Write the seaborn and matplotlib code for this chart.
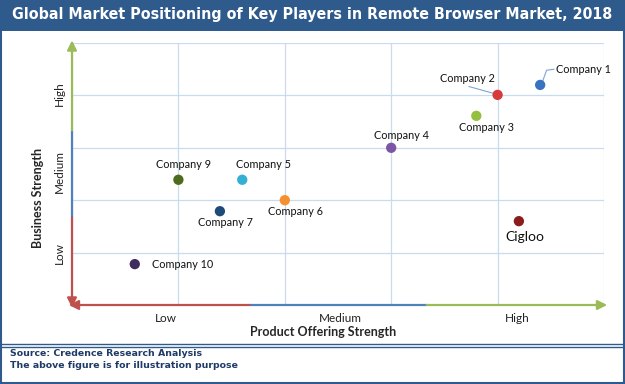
import numpy as np
import pandas as pd
import seaborn as sns
import matplotlib.pyplot as plt
from matplotlib.patches import Rectangle

# data (grid units 0-5 on both axes)
companies = ['Company 1', 'Company 2', 'Company 3', 'Company 4', 'Company 5',
             'Company 6', 'Company 7', 'Company 9', 'Company 10', 'Cigloo']
product_strength = [4.40, 4.00, 3.80, 3.00, 1.60, 2.00, 1.39, 1.00, 0.59, 4.20]
business_strength = [4.20, 4.01, 3.61, 3.00, 2.39, 2.00, 1.79, 2.39, 0.78, 1.60]
colors = ['#3a72c0', '#d63a3a', '#95bf3f', '#7c55a6', '#35b0d2',
          '#f5902f', '#1f4a78', '#4d6b1e', '#3e2c5c', '#8a1c1c']
level_labels = ['Low', 'Medium', 'High']

df = pd.DataFrame({'company': companies, 'x': product_strength, 'y': business_strength})

sns.set_style('white')
plt.rcParams['font.family'] = ['Lato', 'DejaVu Sans']

fig = plt.figure(figsize=(6.25, 3.84), dpi=100)
navy = '#2f5a8c'

# frame, title bar, footer
fig.patches.append(Rectangle((0.0015, 0.002), 0.997, 0.996, transform=fig.transFigure,
                             fill=False, edgecolor=navy, lw=1.5))
fig.patches.append(Rectangle((0, 1 - 31 / 384), 1, 31 / 384, transform=fig.transFigure,
                             facecolor=navy, edgecolor='none'))
fig.text(0.5, 1 - 15 / 384, 'Global Market Positioning of Key Players in Remote Browser Market, 2018',
         ha='center', va='center', color='white', fontsize=11.4, fontweight='bold',
         family='DejaVu Sans', stretch='condensed')
fig.add_artist(plt.Line2D([0, 1], [1 - 344 / 384] * 2, color=navy, lw=1))
fig.add_artist(plt.Line2D([0, 1], [1 - 347 / 384] * 2, color=navy, lw=1))
fig.text(10 / 625, 1 - 354 / 384, 'Source: Credence Research Analysis', ha='left', va='center',
         color='#1f3a68', fontsize=6.75, fontweight='bold', family='DejaVu Sans')
fig.text(10 / 625, 1 - 365 / 384, 'The above figure is for illustration purpose', ha='left', va='center',
         color='#1f3a68', fontsize=6.75, fontweight='bold', family='DejaVu Sans')

ax = fig.add_axes([72 / 625, 1 - 305 / 384, 532 / 625, 262 / 384])
sns.scatterplot(data=df, x='x', y='y', hue='company', palette=dict(zip(companies, colors)),
                s=55, edgecolor='none', legend=False, ax=ax, zorder=5)

ax.set_xlim(0, 5)
ax.set_ylim(0, 5)
ax.set_xticks(np.arange(0, 6))
ax.set_yticks(np.arange(0, 6))
ax.grid(True, color='#c9dbef', lw=0.9)
ax.tick_params(length=0, labelbottom=False, labelleft=False)
for s in ax.spines.values():
    s.set_visible(False)
ax.set_xlabel('')
ax.set_ylabel('')

# coloured axis arrows
seg_cols = ['#c0504d', '#4f81bd', '#9bbb59']
third = 5 / 3
arrow_kw = dict(arrowstyle='-|>', mutation_scale=14, lw=1.6, shrinkA=0, shrinkB=0)
ax.annotate('', xy=(-0.03, 0), xytext=(third, 0),
            arrowprops=dict(color=seg_cols[0], **arrow_kw), annotation_clip=False)
ax.plot([third, 2 * third], [0, 0], color=seg_cols[1], lw=1.6, clip_on=False)
ax.annotate('', xy=(5.03, 0), xytext=(2 * third, 0),
            arrowprops=dict(color=seg_cols[2], **arrow_kw), annotation_clip=False)
ax.annotate('', xy=(0, -0.05), xytext=(0, third),
            arrowprops=dict(color=seg_cols[0], **arrow_kw), annotation_clip=False)
ax.plot([0, 0], [third, 2 * third], color=seg_cols[1], lw=1.6, clip_on=False)
ax.annotate('', xy=(0, 5.05), xytext=(0, 2 * third),
            arrowprops=dict(color=seg_cols[2], **arrow_kw), annotation_clip=False)

# level labels
for lbl, xv in zip(level_labels, [0.88, 2.52, 4.18]):
    ax.text(xv, -0.25, lbl, ha='center', va='center', fontsize=8.5, color='#222222')
for lbl, yv in zip(level_labels, [1.0, 2.55, 4.03]):
    ax.text(-0.12, yv, lbl, ha='center', va='center', fontsize=8.5, rotation=90, color='#222222')
ax.text(2.36, -0.52, 'Product Offering Strength', ha='center', va='center',
        fontsize=9, fontweight='bold')
ax.text(-0.32, 2.05, 'Business Strength', ha='center', va='center',
        fontsize=9, fontweight='bold', rotation=90)

# company labels
label_pos = {
    'Company 1': (4.55, 4.50, 'left'),
    'Company 2': (3.72, 4.32, 'center'),
    'Company 3': (3.90, 3.38, 'center'),
    'Company 4': (3.10, 3.23, 'center'),
    'Company 5': (1.80, 2.69, 'center'),
    'Company 6': (2.10, 1.78, 'center'),
    'Company 7': (1.44, 1.58, 'center'),
    'Company 9': (1.05, 2.69, 'center'),
    'Company 10': (0.75, 0.78, 'left'),
}
for name, (tx, ty, ha) in label_pos.items():
    ax.text(tx, ty, name, ha=ha, va='center', fontsize=7.8, color='#111111')
ax.text(4.26, 1.29, 'Cigloo', ha='center', va='center', fontsize=10, color='#111111')

# leader lines
ax.plot([4.42, 4.46, 4.53], [4.25, 4.48, 4.50], color='#7aa6d6', lw=0.8)
ax.plot([3.73, 3.96], [4.17, 4.04], color='#7aa6d6', lw=0.8)

fig.savefig('out.png', dpi=100)
